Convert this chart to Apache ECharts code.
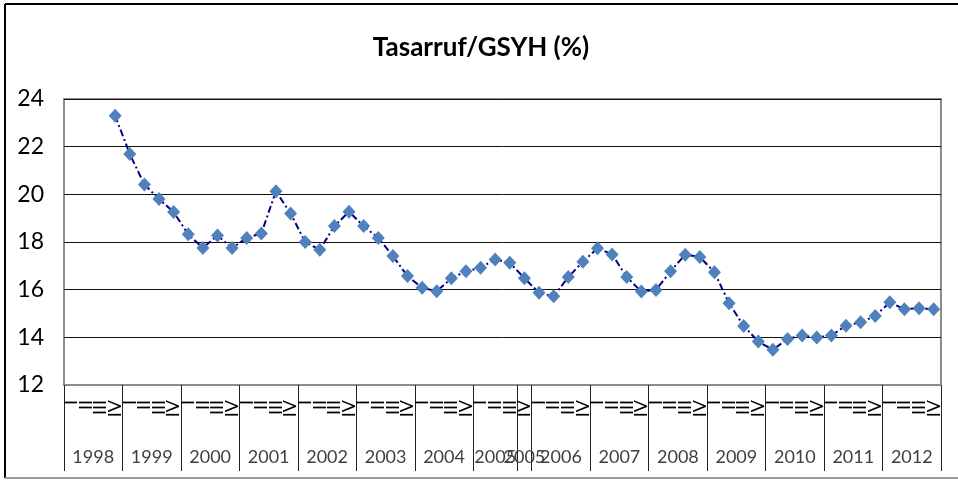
<!DOCTYPE html>
<html>
<head>
<meta charset="utf-8">
<script src="https://cdn.jsdelivr.net/npm/echarts@6/dist/echarts.min.js"></script>
<style>
html,body{margin:0;padding:0;background:#fff;}
#chart{width:958px;height:484px;}
</style>
</head>
<body>
<div id="chart"></div>
<script>
// ---- data ----
const chartTitle = 'Tasarruf/GSYH (%)';
const quarters = ['I', 'II', 'III', 'IV'];
const years = ['1998','1999','2000','2001','2002','2003','2004','2005','2006','2007','2008','2009','2010','2011','2012'];
// Excel quirk in the reference: the 2005 group is split after its 3rd quarter
const splitYear = '2005';
const splitAfterQuarter = 3;
// quarterly values, 1998-I .. 2012-IV
const savingsRatio = [
  null, null, null, 23.30,
  21.69, 20.41, 19.80, 19.26,
  18.32, 17.75, 18.27, 17.75,
  18.17, 18.36, 20.13, 19.20,
  18.00, 17.67, 18.67, 19.27,
  18.67, 18.17, 17.41, 16.57,
  16.08, 15.93, 16.48, 16.77,
  16.92, 17.27, 17.13, 16.48,
  15.87, 15.72, 16.53, 17.17,
  17.74, 17.48, 16.53, 15.92,
  15.99, 16.77, 17.47, 17.37,
  16.73, 15.43, 14.48, 13.82,
  13.48, 13.93, 14.08, 13.99,
  14.08, 14.49, 14.63, 14.90,
  15.47, 15.18, 15.22, 15.18
];
const yMin = 12, yMax = 24, yStep = 2;

// ---- derived axis structures ----
const quarterCats = [];
years.forEach(() => quarters.forEach(q => quarterCats.push(q)));
const nQ = quarters.length;
const total = years.length * nQ;
const yearBounds = [];
const yearLabelPos = [];
const yearLabelMap = {};
years.forEach((y, i) => {
  const s = i * nQ;
  yearBounds.push(s);
  if (y === splitYear) {
    yearBounds.push(s + splitAfterQuarter);
    const c1 = s + splitAfterQuarter / 2;
    const c2 = s + (splitAfterQuarter + nQ) / 2;
    yearLabelPos.push(c1, c2);
    yearLabelMap[c1.toFixed(2)] = y;
    yearLabelMap[c2.toFixed(2)] = y;
  } else {
    const c = s + nQ / 2;
    yearLabelPos.push(c);
    yearLabelMap[c.toFixed(2)] = y;
  }
});
yearBounds.push(total);

const font = 'Lato, "Open Sans", "Liberation Sans", sans-serif';
const chart = echarts.init(document.getElementById('chart'), null, {renderer: 'canvas'});
chart.setOption({
  backgroundColor: '#ffffff',
  animation: false,
  title: {
    text: chartTitle,
    left: 476,
    textAlign: 'center',
    top: 30,
    textStyle: {fontFamily: font, fontSize: 26, fontWeight: 'bold', color: '#000'}
  },
  graphic: [
    {type: 'line', shape: {x1: 5, y1: 4, x2: 958, y2: 4}, style: {stroke: '#000', lineWidth: 2}},
    {type: 'line', shape: {x1: 5, y1: 4, x2: 5, y2: 478}, style: {stroke: '#000', lineWidth: 2}},
    {type: 'line', shape: {x1: 5, y1: 478, x2: 958, y2: 478}, style: {stroke: '#9a9a9a', lineWidth: 2}}
  ],
  grid: {
    left: 64, right: 17, top: 99, bottom: 99,
    show: true, borderColor: '#8c8c8c', borderWidth: 2, backgroundColor: 'transparent'
  },
  xAxis: [
    {
      type: 'category',
      data: quarterCats,
      boundaryGap: true,
      position: 'bottom',
      axisLine: {show: true, lineStyle: {color: '#8c8c8c', width: 2}},
      axisTick: {show: false},
      axisLabel: {
        interval: 0, rotate: 90, margin: 15,
        fontFamily: font, fontSize: 18, color: '#000'
      },
      splitLine: {show: false}
    },
    {
      type: 'value',
      min: 0, max: total,
      position: 'bottom',
      axisLine: {show: false},
      axisTick: {
        show: true, inside: false, length: 86,
        customValues: yearBounds,
        lineStyle: {color: '#222', width: 1}
      },
      axisLabel: {
        show: true, margin: 63,
        customValues: yearLabelPos,
        formatter: v => yearLabelMap[Number(v).toFixed(2)] || '',
        fontFamily: font, fontSize: 18, color: '#404040'
      },
      splitLine: {show: false}
    }
  ],
  yAxis: {
    type: 'value',
    min: yMin, max: yMax, interval: yStep,
    axisLine: {show: false},
    axisTick: {show: false},
    axisLabel: {margin: 20, fontFamily: font, fontSize: 23, color: '#000'},
    splitLine: {show: true, lineStyle: {color: '#111', width: 1}}
  },
  series: [{
    type: 'line',
    xAxisIndex: 0,
    yAxisIndex: 0,
    data: savingsRatio,
    connectNulls: false,
    symbol: 'diamond',
    symbolSize: [13, 14],
    itemStyle: {color: '#4F81BD'},
    lineStyle: {color: '#000080', width: 2, type: [7, 3, 2, 3]},
    z: 3
  }]
});
</script>
</body>
</html>
